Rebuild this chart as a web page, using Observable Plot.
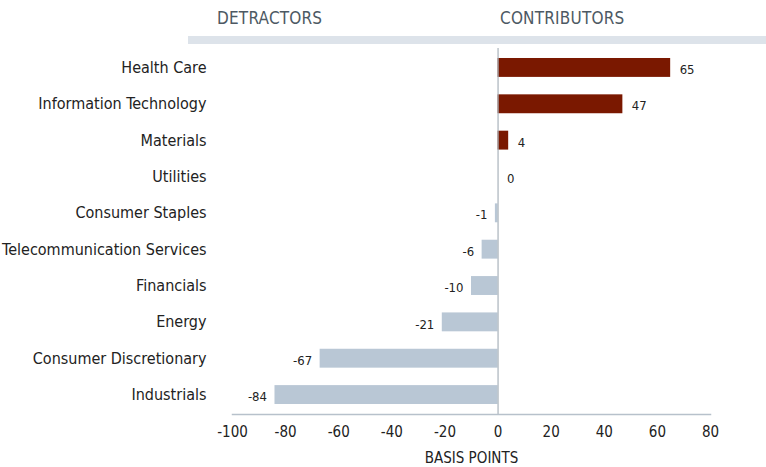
<!DOCTYPE html>
<html>
<head>
<meta charset="utf-8">
<script src="https://cdn.jsdelivr.net/npm/d3@7"></script>
<script src="https://cdn.jsdelivr.net/npm/@observablehq/plot@0.6"></script>
<style>
  html, body { margin: 0; padding: 0; background: #fff; }
  #wrap { position: relative; width: 766px; height: 467px; font-family: "Liberation Sans Narrow", "DejaVu Sans Condensed", sans-serif; }
  #header { position: relative; height: 44px; }
  #band { position: absolute; left: 188px; right: 0; top: 36px; height: 8px; background: #dde3ea; }
  .hd { position: absolute; top: 8px; font-size: 17px; color: #4d5963; letter-spacing: 0.2px; }
</style>
</head>
<body>
<div id="wrap">
  <div id="header">
    <div class="hd" style="left:217px">DETRACTORS</div>
    <div class="hd" style="left:500px">CONTRIBUTORS</div>
    <div id="band"></div>
  </div>
  <div id="chart"></div>
</div>
<script>
const sectors = ["Health Care", "Information Technology", "Materials", "Utilities", "Consumer Staples",
  "Telecommunication Services", "Financials", "Energy", "Consumer Discretionary", "Industrials"];
const values = [65, 47, 4, 0, -1, -6, -10, -21, -67, -84];
const xTicks = [-100, -80, -60, -40, -20, 0, 20, 40, 60, 80];

const data = sectors.map((s, i) => ({sector: s, value: values[i]}));
const pos = data.filter(d => d.value >= 0);
const neg = data.filter(d => d.value < 0);

const chart = Plot.plot({
  width: 766,
  height: 423,
  marginLeft: 232,
  marginRight: 56,
  marginTop: 4,
  marginBottom: 53,
  style: {fontFamily: "'Liberation Sans Narrow', 'DejaVu Sans Condensed', sans-serif", color: "#222", background: "#fff"},
  x: {domain: [-100, 80], ticks: xTicks, label: "BASIS POINTS"},
  y: {domain: sectors, padding: 0.48, paddingOuter: 0.275, round: false, label: null},
  marks: [
    Plot.barX(pos, {x: "value", y: "sector", fill: "#7a1800"}),
    Plot.barX(neg, {x: "value", y: "sector", fill: "#b9c7d5"}),
    Plot.ruleX([0], {stroke: "#a9b2bb", strokeWidth: 1.2}),
    Plot.frame({anchor: "bottom", stroke: "#b7c1cb", strokeWidth: 1.5}),
    Plot.text(pos, {x: "value", y: "sector", text: d => String(d.value),
      textAnchor: "start", dx: 9, dy: 2, fontSize: 13, fill: "#222"}),
    Plot.text(neg, {x: "value", y: "sector", text: d => String(d.value),
      textAnchor: "end", dx: -8, dy: 2, fontSize: 13, fill: "#222"}),
    Plot.axisY({tickSize: 0, tickPadding: 26, fontSize: 16, label: null}),
    Plot.axisX({tickSize: 0, tickPadding: 12, fontSize: 15, tickFormat: d => String(d),
      label: "BASIS POINTS", labelAnchor: "center", labelArrow: "none", labelOffset: 48})
  ]
});
document.getElementById("chart").appendChild(chart);
</script>
</body>
</html>
